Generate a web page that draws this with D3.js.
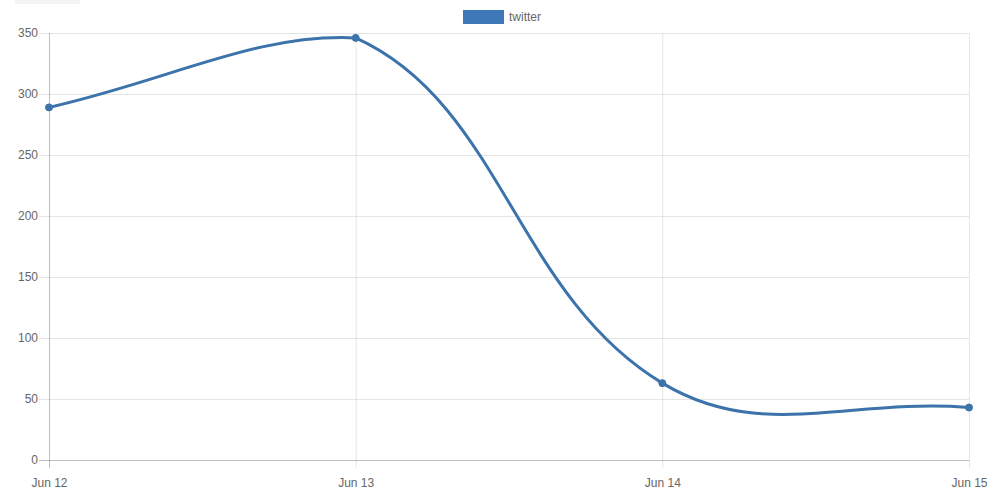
<!DOCTYPE html>
<html>
<head>
<meta charset="utf-8">
<script src="https://cdn.jsdelivr.net/npm/d3@7"></script>
<style>
	body { margin: 0; background: #fff; }
	text { font-family: "Liberation Sans", Arial, sans-serif; fill: #666; font-size: 12px; }
</style>
</head>
<body>
<script>
// data
const dates = ['Jun 12', 'Jun 13', 'Jun 14', 'Jun 15'];
const twitter = [289, 346, 63, 43];
const yTicks = [0, 50, 100, 150, 200, 250, 300, 350];
const seriesName = 'twitter';

const margin = { top: 33, right: 31, bottom: 38, left: 49 };
const W = 1000;
const H = 498;
const width = W - margin.left - margin.right;
const height = H - margin.top - margin.bottom;

const lineColor = '#3c73ab';
const gridColor = 'rgba(0,0,0,0.1)';

const svg = d3
	.select('body')
	.append('svg')
	.attr('width', W)
	.attr('height', H);

// faint box in the top left corner
svg.append('rect')
	.attr('x', 15).attr('y', 0).attr('width', 65).attr('height', 4)
	.style('fill', '#f4f4f4');

const g = svg.append('g')
	.attr('transform', `translate(${margin.left},${margin.top})`);

const x = d3.scalePoint().domain(dates).range([0, width]);
const y = d3.scaleLinear().domain([0, 350]).range([height, 0]);

// y grid + axis
const yAxis = d3.axisLeft(y)
	.tickValues(yTicks)
	.tickSize(-width - 10)
	.tickPadding(4);

g.append('g')
	.attr('class', 'y axis')
	.attr('transform', 'translate(-10,0)')
	.call(yAxis)
	.call(s => s.select('.domain').remove())
	.call(s => s.selectAll('line')
		.attr('x1', 0)
		.attr('x2', width + 10)
		.style('stroke', d => d === 0 ? 'rgba(0,0,0,0.25)' : gridColor))
	.call(s => s.selectAll('text').attr('x', -1));

// x grid + axis
const xAxis = d3.axisBottom(x)
	.tickSize(-height - 8)
	.tickPadding(10);

g.append('g')
	.attr('class', 'x axis')
	.attr('transform', `translate(0,${height + 8})`)
	.call(xAxis)
	.call(s => s.select('.domain').remove())
	.call(s => s.selectAll('line')
		.style('stroke', (d, i) => i === 0 ? 'rgba(0,0,0,0.25)' : gridColor))
	.call(s => s.selectAll('text').attr('y', 10));

// chart.js style bezier, tension 0.4, control points kept inside the plot area
const pts = dates.map((d, i) => ({ x: x(d), y: y(twitter[i]) }));
const tension = 0.4;
const cap = p => ({
	x: Math.max(0, Math.min(width, p.x)),
	y: Math.max(0, Math.min(height, p.y)),
});
pts.forEach((p, i) => {
	const prev = pts[i - 1] || p;
	const next = pts[i + 1] || p;
	const d01 = Math.hypot(p.x - prev.x, p.y - prev.y);
	const d12 = Math.hypot(next.x - p.x, next.y - p.y);
	let s01 = d01 / (d01 + d12);
	let s12 = d12 / (d01 + d12);
	s01 = isNaN(s01) ? 0 : s01;
	s12 = isNaN(s12) ? 0 : s12;
	const fa = tension * s01;
	const fb = tension * s12;
	p.cpPrev = cap({ x: p.x - fa * (next.x - prev.x), y: p.y - fa * (next.y - prev.y) });
	p.cpNext = cap({ x: p.x + fb * (next.x - prev.x), y: p.y + fb * (next.y - prev.y) });
});

const path = d3.path();
path.moveTo(pts[0].x, pts[0].y);
for (let i = 1; i < pts.length; i++) {
	const a = pts[i - 1];
	const b = pts[i];
	path.bezierCurveTo(a.cpNext.x, a.cpNext.y, b.cpPrev.x, b.cpPrev.y, b.x, b.y);
}

g.append('path')
	.attr('d', path.toString())
	.style('fill', 'none')
	.style('stroke', lineColor)
	.style('stroke-width', 3);

g.selectAll('circle.pt')
	.data(twitter)
	.enter()
	.append('circle')
	.attr('class', 'pt')
	.attr('cx', (d, i) => x(dates[i]))
	.attr('cy', d => y(d))
	.attr('r', 3.5)
	.style('fill', lineColor)
	.style('stroke', lineColor)
	.style('stroke-width', 1);

// legend
const legend = svg.append('g')
	.attr('transform', 'translate(463,10)');

legend.append('rect')
	.attr('width', 41)
	.attr('height', 14)
	.style('fill', '#3e78b8');

legend.append('text')
	.attr('x', 46)
	.attr('y', 7)
	.attr('dy', '.35em')
	.text(seriesName);
</script>
</body>
</html>
